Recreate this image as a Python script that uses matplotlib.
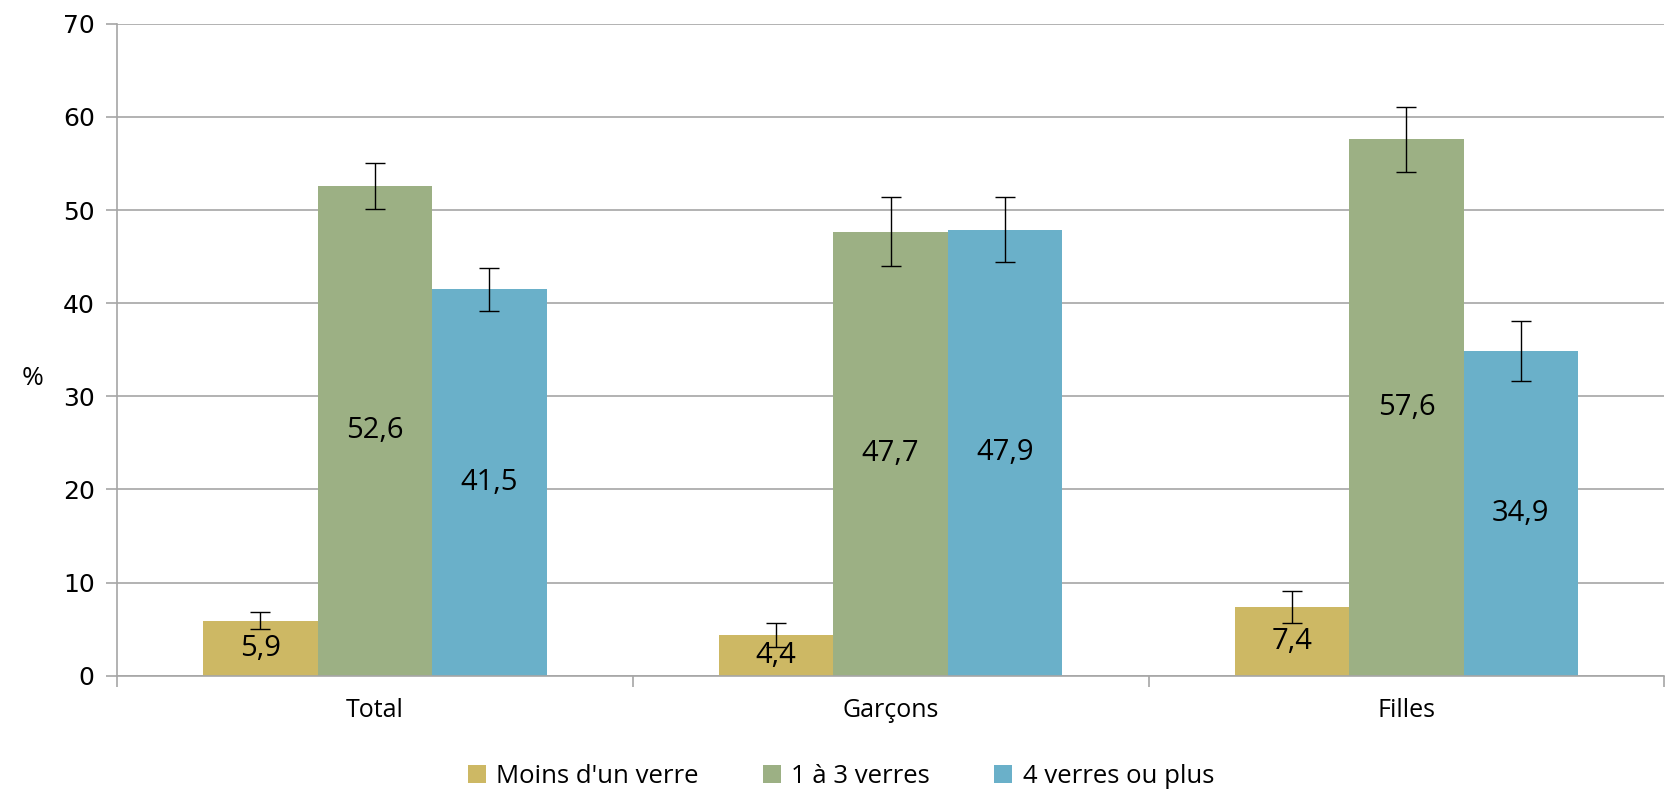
import numpy as np
import matplotlib.pyplot as plt

categories = ['Total', 'Garçons', 'Filles']
series_names = ["Moins d'un verre", '1 à 3 verres', '4 verres ou plus']
moins_un = [5.9, 4.4, 7.4]
un_a_trois = [52.6, 47.7, 57.6]
quatre_plus = [41.5, 47.9, 34.9]
err_moins_un = [0.9, 1.3, 1.7]
err_un_a_trois = [2.5, 3.7, 3.5]
err_quatre_plus = [2.3, 3.5, 3.2]

colors = ['#CDB864', '#9CB084', '#6AB0C9']
font = ['Open Sans', 'DejaVu Sans']

fig = plt.figure(figsize=(16.71, 7.95), dpi=100)
ax = fig.add_axes([0.070, 0.150, 0.926, 0.820])

x = np.arange(len(categories))
w = 0.222
values = [moins_un, un_a_trois, quatre_plus]
errors = [err_moins_un, err_un_a_trois, err_quatre_plus]

for i, (vals, errs) in enumerate(zip(values, errors)):
    pos = x + (i - 1) * w
    bars = ax.bar(pos, vals, width=w, color=colors[i], label=series_names[i], zorder=2)
    ax.errorbar(pos, vals, yerr=errs, fmt='none', ecolor='black', elinewidth=1.0,
                capsize=7, capthick=1.0, zorder=3)
    for b, v in zip(bars, vals):
        ax.text(b.get_x() + b.get_width() / 2, v / 2, f'{v:.1f}'.replace('.', ','),
                ha='center', va='center', fontsize=21, family=font, zorder=4)

ax.set_ylim(0, 70)
ax.set_xlim(-0.5, 2.5)
ax.set_yticks(range(0, 71, 10))
ax.yaxis.grid(True, color='#A6A6A6', linewidth=1.2, zorder=0)
ax.set_axisbelow(True)
for s in ['top', 'right']:
    ax.spines[s].set_visible(False)
for s in ['left', 'bottom']:
    ax.spines[s].set_color('#A6A6A6')
    ax.spines[s].set_linewidth(1.2)

ax.tick_params(axis='y', length=8, color='#A6A6A6', width=1.2, labelsize=18, pad=8)
ax.set_xticks(x)
ax.set_xticklabels(categories)
ax.tick_params(axis='x', which='major', length=0, labelsize=18, pad=16)
ax.set_xticks([-0.5, 0.5, 1.5, 2.5], minor=True)
ax.tick_params(axis='x', which='minor', length=8, color='#A6A6A6', width=1.2)
for lab in ax.get_xticklabels():
    lab.set_family(font)

fig.text(0.013, 0.524, '%', fontsize=19, ha='left', va='center', family=font)

ax.legend(loc='center', bbox_to_anchor=(0.468, -0.155), ncol=3, frameon=False,
          prop={'family': font, 'size': 18.5}, handlelength=0.7, handleheight=0.7,
          handletextpad=0.4, columnspacing=2.5)

fig.savefig('out.png', dpi=100)
